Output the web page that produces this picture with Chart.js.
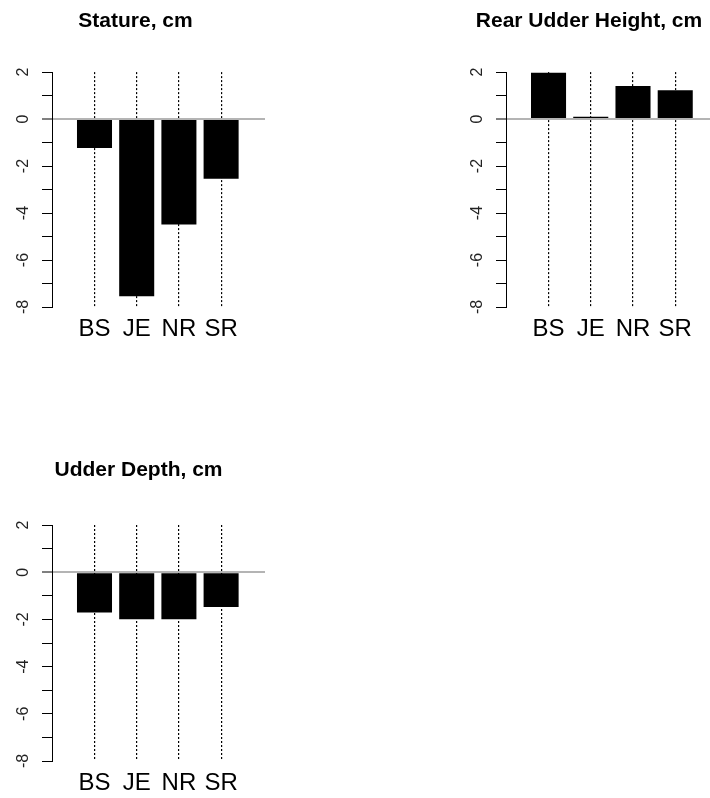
<!DOCTYPE html>
<html>
<head>
<meta charset="utf-8">
<script src="https://cdn.jsdelivr.net/npm/chart.js@4"></script>
<style>
  html, body { margin: 0; padding: 0; background: #fff; overflow: hidden; }
  body { width: 710px; height: 798px; position: relative; }
  canvas { position: absolute; }
</style>
</head>
<body>
<canvas id="stature"></canvas>
<canvas id="rearUdder"></canvas>
<canvas id="udderDepth"></canvas>
<script>
// Data
const breeds = ['BS', 'JE', 'NR', 'SR'];
const statureValues = [-1.23, -7.54, -4.49, -2.54];
const rearUdderValues = [1.97, 0.1, 1.41, 1.23];
const udderDepthValues = [-1.71, -1.99, -1.99, -1.47];
const titles = ['Stature, cm', 'Rear Udder Height, cm', 'Udder Depth, cm'];
const yTicks = [2, 1, 0, -1, -2, -3, -4, -5, -6, -7, -8];

const FONT = "'Liberation Sans', Arial, sans-serif";

// Build one small R-style barplot
function makePanel(id, title, values, box) {
    const canvas = document.getElementById(id);
    canvas.width = box.width;
    canvas.height = box.height;
    canvas.style.left = box.left + 'px';
    canvas.style.top = box.top + 'px';

    const points = values.map((v, i) => ({ x: i, y: v }));

    return new Chart(canvas, {
        type: 'bar',
        data: {
            datasets: [{
                data: points,
                backgroundColor: '#000',
                borderWidth: 0,
                barPercentage: 0.83,
                categoryPercentage: 1
            }]
        },
        options: {
            responsive: false,
            animation: false,
            events: [],
            layout: { padding: { left: box.padLeft, right: box.padRight, top: 0, bottom: 0 } },
            plugins: {
                legend: { display: false },
                tooltip: { enabled: false },
                title: {
                    display: true,
                    text: title,
                    color: '#000',
                    font: { family: FONT, size: 21, weight: 'bold' },
                    padding: { top: box.titleTop, bottom: box.titleBottom }
                }
            },
            scales: {
                x: {
                    type: 'linear',
                    offset: false,
                    min: -1.007,
                    max: box.xMax,
                    afterBuildTicks: (scale) => {
                        scale.ticks = breeds.map((b, i) => ({ value: i }));
                    },
                    afterFit: (scale) => { scale.height = 36; },
                    ticks: {
                        autoSkip: false,
                        maxRotation: 0,
                        padding: 8,
                        color: '#000',
                        font: { family: FONT, size: 24 },
                        callback: (v) => breeds[v] ?? ''
                    },
                    // dotted verticals like R's lty=3
                    grid: {
                        offset: false,
                        color: '#000',
                        lineWidth: 1.2,
                        drawTicks: false
                    },
                    border: { display: false, dash: [2, 2] }
                },
                y: {
                    min: -8,
                    max: 2,
                    afterBuildTicks: (scale) => {
                        scale.ticks = yTicks.map(v => ({ value: v }));
                    },
                    afterFit: (scale) => { scale.width = box.yWidth; },
                    ticks: {
                        minRotation: 90,
                        maxRotation: 90,
                        crossAlign: 'center',
                        padding: 11,
                        color: '#222',
                        font: { family: FONT, size: 16 },
                        callback: (v) => (v % 2 === 0 ? String(v) : '')
                    },
                    grid: {
                        color: (ctx) => (ctx.tick && ctx.tick.value === 0 ? '#b4b4b4' : 'rgba(0,0,0,0)'),
                        lineWidth: (ctx) => (ctx.tick && ctx.tick.value === 0 ? 2 : 1),
                        tickColor: '#000',
                        tickLength: 10,
                        tickWidth: 1
                    },
                    border: { display: true, color: '#000', width: 1 }
                }
            }
        }
    });
}

const panels = [
    { id: 'stature', values: statureValues,
      box: { left: 0, top: 0, width: 271, height: 343, padLeft: 6, padRight: 6, yWidth: 46,
             titleTop: 8.2, titleBottom: 38.7, xMax: 4.04 } },
    { id: 'rearUdder', values: rearUdderValues,
      box: { left: 452, top: 0, width: 268, height: 343, padLeft: 6, padRight: 0, yWidth: 48,
             titleTop: 8.2, titleBottom: 38.7, xMax: 4.06 } },
    { id: 'udderDepth', values: udderDepthValues,
      box: { left: 0, top: 450, width: 277, height: 347, padLeft: 12, padRight: 12, yWidth: 40,
             titleTop: 8, titleBottom: 41.8, xMax: 4.04 } }
];

panels.forEach((p, i) => {
    makePanel(p.id, titles[i], p.values, p.box);
});
</script>
</body>
</html>
